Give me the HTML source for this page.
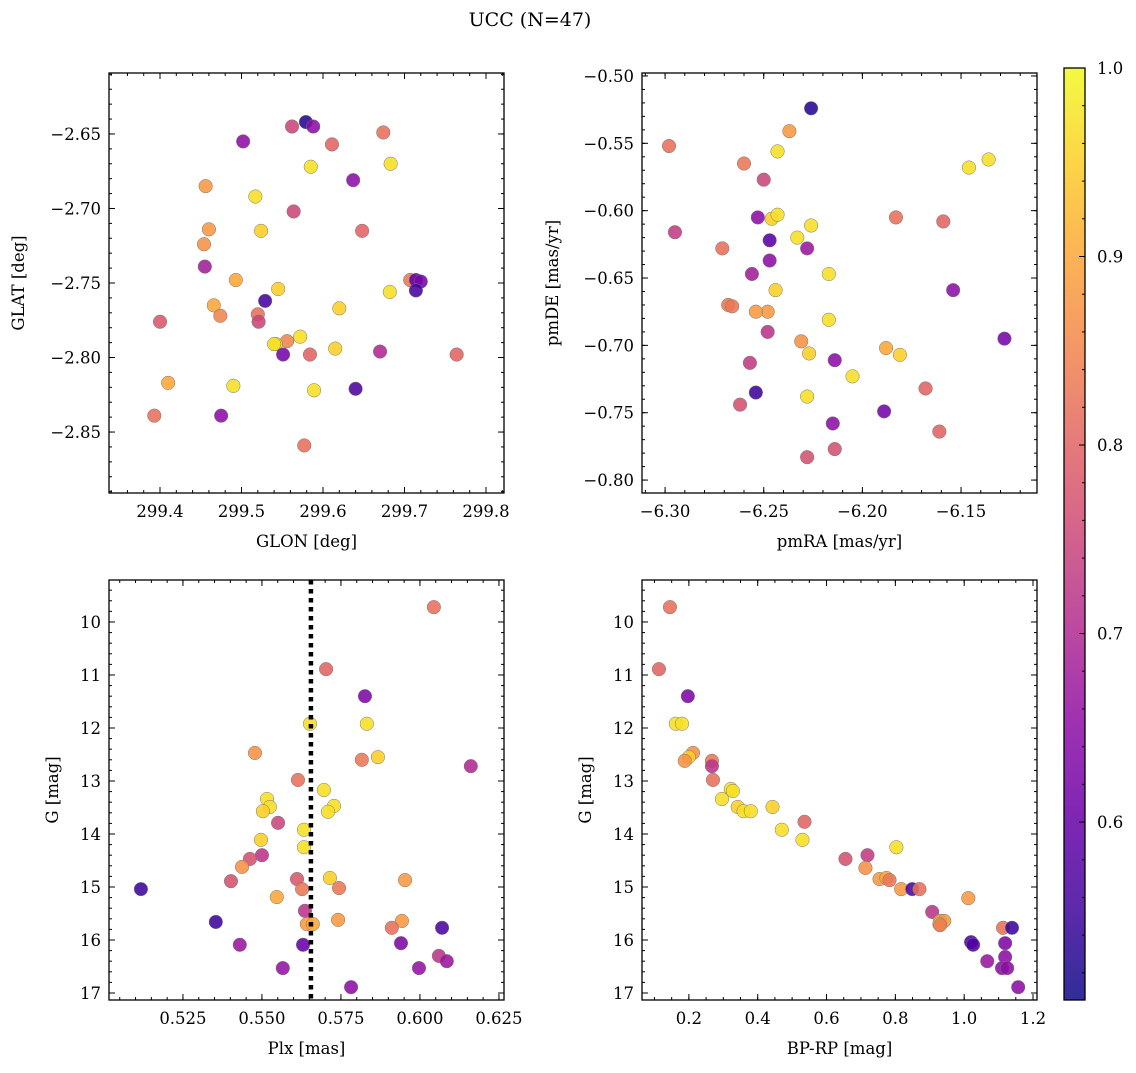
<!DOCTYPE html>
<html><head><meta charset="utf-8">
<style>
html,body{margin:0;padding:0;background:#fff;}
svg text{font-family:"DejaVu Serif","Liberation Serif",serif;fill:#000;}
</style></head>
<body>
<svg id="fig" width="1136" height="1068" xmlns="http://www.w3.org/2000/svg">
<text x="530" y="26" font-size="19" text-anchor="middle">UCC (N=47)</text>
</svg>
<script>
// ---- data ----
const glon=[299.579,299.588,299.562,299.674,299.502,299.611,299.683,299.585,299.637,299.456,299.517,299.564,299.460,299.524,299.648,299.454,299.455,299.493,299.707,299.714,299.720,299.545,299.682,299.714,299.529,299.466,299.620,299.474,299.520,299.400,299.521,299.572,299.556,299.542,299.540,299.615,299.670,299.551,299.584,299.764,299.410,299.490,299.640,299.589,299.475,299.393,299.577];
const glat=[-2.642,-2.645,-2.645,-2.649,-2.655,-2.657,-2.670,-2.672,-2.681,-2.685,-2.692,-2.702,-2.714,-2.715,-2.715,-2.724,-2.739,-2.748,-2.748,-2.748,-2.749,-2.754,-2.756,-2.755,-2.762,-2.765,-2.767,-2.772,-2.771,-2.776,-2.776,-2.786,-2.789,-2.791,-2.791,-2.794,-2.796,-2.798,-2.798,-2.798,-2.817,-2.819,-2.821,-2.822,-2.839,-2.839,-2.859];
const prob1=[0.53,0.65,0.75,0.82,0.65,0.8,0.97,0.97,0.65,0.88,0.97,0.75,0.88,0.95,0.8,0.87,0.68,0.9,0.83,0.6,0.62,0.95,0.97,0.56,0.56,0.9,0.95,0.85,0.82,0.78,0.75,0.97,0.85,0.97,0.97,0.95,0.7,0.62,0.8,0.8,0.9,0.97,0.57,0.97,0.65,0.82,0.82];
const pmra=[-6.226,-6.237,-6.298,-6.260,-6.243,-6.136,-6.146,-6.250,-6.253,-6.246,-6.243,-6.226,-6.233,-6.183,-6.159,-6.295,-6.271,-6.247,-6.228,-6.247,-6.256,-6.217,-6.244,-6.154,-6.268,-6.266,-6.248,-6.254,-6.217,-6.248,-6.128,-6.231,-6.188,-6.227,-6.181,-6.257,-6.214,-6.205,-6.168,-6.254,-6.228,-6.189,-6.262,-6.215,-6.161,-6.228,-6.214];
const pmde=[-0.524,-0.541,-0.552,-0.565,-0.556,-0.562,-0.568,-0.577,-0.605,-0.606,-0.603,-0.611,-0.620,-0.605,-0.608,-0.616,-0.628,-0.622,-0.628,-0.637,-0.647,-0.647,-0.659,-0.659,-0.670,-0.671,-0.675,-0.675,-0.681,-0.690,-0.695,-0.697,-0.702,-0.706,-0.707,-0.713,-0.711,-0.723,-0.732,-0.735,-0.738,-0.749,-0.744,-0.758,-0.764,-0.783,-0.777];
const prob2=[0.53,0.88,0.82,0.83,0.97,0.97,0.97,0.75,0.65,0.95,0.97,0.97,0.97,0.82,0.8,0.73,0.82,0.58,0.67,0.65,0.68,0.97,0.95,0.65,0.83,0.83,0.88,0.88,0.97,0.72,0.62,0.87,0.9,0.95,0.95,0.73,0.65,0.97,0.8,0.55,0.97,0.62,0.77,0.65,0.8,0.77,0.77];
const plx=[0.6044,0.5703,0.5826,0.5652,0.5832,0.5478,0.5867,0.5816,0.6161,0.5614,0.5696,0.5516,0.5525,0.5728,0.5503,0.5709,0.5551,0.5633,0.5497,0.5633,0.5500,0.5462,0.5437,0.5715,0.5402,0.5611,0.5953,0.5744,0.5117,0.5627,0.5547,0.5636,0.5642,0.5741,0.5943,0.5354,0.5661,0.5911,0.6070,0.5940,0.5430,0.5630,0.6060,0.6085,0.5566,0.5997,0.5782];
const gmag3=[9.72,10.89,11.40,11.92,11.92,12.47,12.55,12.60,12.72,12.98,13.17,13.34,13.49,13.47,13.57,13.58,13.79,13.92,14.11,14.25,14.40,14.47,14.62,14.83,14.89,14.85,14.87,15.02,15.04,15.04,15.19,15.45,15.70,15.62,15.64,15.66,15.70,15.77,15.77,16.06,16.09,16.09,16.30,16.40,16.53,16.53,16.89];
const prob3=[0.82,0.8,0.63,0.97,0.97,0.87,0.95,0.83,0.7,0.82,0.97,0.97,0.97,0.97,0.95,0.97,0.75,0.97,0.95,0.97,0.72,0.77,0.87,0.95,0.77,0.78,0.88,0.83,0.55,0.83,0.9,0.72,0.88,0.88,0.88,0.55,0.9,0.82,0.57,0.63,0.67,0.6,0.72,0.67,0.66,0.66,0.65];
const bprp=[0.145,0.113,0.197,0.162,0.180,0.212,0.200,0.188,0.267,0.267,0.270,0.322,0.328,0.296,0.342,0.359,0.380,0.443,0.536,0.470,0.530,0.803,0.655,0.719,0.713,0.754,0.774,0.783,0.817,0.849,0.870,1.012,0.907,0.930,0.942,0.928,0.930,1.113,1.139,1.119,1.020,1.026,1.119,1.067,1.110,1.125,1.157];
const gmag4=[9.72,10.89,11.40,11.92,11.92,12.47,12.55,12.62,12.62,12.72,12.98,13.15,13.19,13.34,13.49,13.57,13.57,13.49,13.77,13.92,14.11,14.25,14.47,14.40,14.64,14.85,14.83,14.87,15.04,15.04,15.04,15.21,15.47,15.64,15.64,15.70,15.72,15.77,15.77,16.06,16.04,16.09,16.32,16.40,16.53,16.53,16.89];
const prob4=[0.82,0.8,0.63,0.97,0.97,0.87,0.95,0.87,0.83,0.72,0.82,0.97,0.97,0.97,0.95,0.97,0.97,0.95,0.8,0.97,0.97,0.97,0.77,0.73,0.87,0.88,0.9,0.83,0.88,0.57,0.82,0.88,0.72,0.88,0.88,0.95,0.83,0.82,0.55,0.63,0.57,0.57,0.65,0.67,0.65,0.65,0.65];
const plxMedian=0.5655;
const cbTicks=[0.6,0.7,0.8,0.9,1.0];

const NS="http://www.w3.org/2000/svg";
const svg=document.getElementById('fig');
function mk(tag,attrs,parent){const e=document.createElementNS(NS,tag);for(const k in attrs)e.setAttribute(k,attrs[k]);(parent||svg).appendChild(e);return e;}
const stops=[[13,8,135],[65,4,157],[106,0,168],[143,13,164],[177,42,144],[204,71,120],[225,100,98],[242,132,75],[252,166,54],[252,206,37],[240,249,33]];
const cmin=0.5056,cmax=1.0;
function plasma(v){let t=(v-cmin)/(cmax-cmin);t=Math.max(0,Math.min(1,t))*10;const i=Math.min(9,Math.floor(t)),f=t-i;const a=stops[i],b=stops[i+1];return 'rgb('+a.map((x,k)=>Math.round(x+(b[k]-x)*f)).join(',')+')';}
function fmt(v,d){const s=Math.abs(v).toFixed(d);return (v<0?'\u2212':'')+s;}

function panel(cfg){
  const {L,T,W,H,xmin,xmax,ymin,ymax,inv,xs,ys,cs,xt,xmn,yt,ymn,xd,yd,xl,yl,ylx,name}=cfg;
  const g=mk('g',{},svg);
  
  
  const X=v=>L+(v-xmin)/(xmax-xmin)*W;
  const Y=v=>inv?T+(v-ymin)/(ymax-ymin)*H:T+H-(v-ymin)/(ymax-ymin)*H;
  for(let i=0;i<xs.length;i++){
    const c=mk('circle',{cx:X(xs[i]),cy:Y(ys[i]),r:6.8,fill:plasma(cs[i]),'fill-opacity':0.88,stroke:'#777','stroke-width':0.5},g);
    
    
  }
  if(cfg.vline!==undefined){
    const l=mk('line',{x1:X(cfg.vline),x2:X(cfg.vline),y1:T,y2:T+H,stroke:'#000','stroke-width':4.5,'stroke-dasharray':'4.5,4.5'},g);
    
    
  }
  const f=mk('rect',{x:L,y:T,width:W,height:H,fill:'none',stroke:'#000','stroke-width':1.3},g);
  
  
  const tk=(x1,y1,x2,y2)=>mk('line',{x1,y1,x2,y2,stroke:'#000','stroke-width':1},g);
  for(let v=Math.ceil(xmin/xmn-1e-6)*xmn;v<=xmax+1e-9;v+=xmn){const x=X(v);tk(x,T+H,x,T+H-3);tk(x,T,x,T+3);}
  for(let v=Math.ceil(ymin/ymn-1e-6)*ymn;v<=ymax+1e-9;v+=ymn){const y=Y(v);tk(L,y,L+3,y);tk(L+W,y,L+W-3,y);}
  xt.forEach(v=>{const x=X(v);tk(x,T+H,x,T+H-6);tk(x,T,x,T+6);
    const t=mk('text',{x:x,y:T+H+24,'font-size':16.5,'text-anchor':'middle'},g);t.textContent=fmt(v,xd);
    
    });
  yt.forEach(v=>{const y=Y(v);tk(L,y,L+6,y);tk(L+W,y,L+W-6,y);
    const t=mk('text',{x:L-8,y:y+6,'font-size':16.5,'text-anchor':'end'},g);t.textContent=fmt(v,yd);
    
    });
  const xa=mk('text',{x:L+W/2,y:T+H+54,'font-size':16.5,'text-anchor':'middle'},g);xa.textContent=xl;
  
  
  const ya=mk('text',{x:0,y:0,'font-size':16.5,'text-anchor':'middle',transform:'translate('+ylx+','+(T+H/2)+') rotate(-90)'},g);ya.textContent=yl;
  
  
}
panel({name:'glon-glat-panel',L:109,T:73,W:395,H:420,xmin:299.3374,xmax:299.8221,ymin:-2.8909,ymax:-2.6091,inv:false,xs:glon,ys:glat,cs:prob1,
  xt:[299.4,299.5,299.6,299.7,299.8],xmn:0.02,yt:[-2.85,-2.8,-2.75,-2.7,-2.65],ymn:0.01,xd:1,yd:2,xl:'GLON [deg]',yl:'GLAT [deg]',ylx:24});
panel({name:'proper-motion-panel',L:642,T:73,W:395,H:420,xmin:-6.3117,xmax:-6.1115,ymin:-0.8096,ymax:-0.4978,inv:false,xs:pmra,ys:pmde,cs:prob2,
  xt:[-6.3,-6.25,-6.2,-6.15],xmn:0.01,yt:[-0.8,-0.75,-0.7,-0.65,-0.6,-0.55,-0.5],ymn:0.01,xd:2,yd:2,xl:'pmRA [mas/yr]',yl:'pmDE [mas/yr]',ylx:558});
panel({name:'plx-g-panel',L:109,T:580,W:395,H:420,xmin:0.5016,xmax:0.6266,ymin:9.208,ymax:17.132,inv:true,xs:plx,ys:gmag3,cs:prob3,vline:plxMedian,
  xt:[0.525,0.55,0.575,0.6,0.625],xmn:0.005,yt:[10,11,12,13,14,15,16,17],ymn:0.2,xd:3,yd:0,xl:'Plx [mas]',yl:'G [mag]',ylx:58});
panel({name:'cmd-panel',L:642,T:580,W:395,H:420,xmin:0.0638,xmax:1.2116,ymin:9.208,ymax:17.132,inv:true,xs:bprp,ys:gmag4,cs:prob4,
  xt:[0.2,0.4,0.6,0.8,1.0,1.2],xmn:0.05,yt:[10,11,12,13,14,15,16,17],ymn:0.2,xd:1,yd:0,xl:'BP-RP [mag]',yl:'G [mag]',ylx:591});
const defs=mk('defs',{});
const lg=mk('linearGradient',{id:'cbg',x1:0,y1:1,x2:0,y2:0},defs);
stops.forEach((s,i)=>mk('stop',{offset:i/10,'stop-color':'rgb('+s.join(',')+')','stop-opacity':0.85},lg));
const cb=mk('g',{});


const CT=68,CB=1000,CL=1064,CW=21;
const CY=v=>CB-(v-cmin)/(cmax-cmin)*(CB-CT);
mk('rect',{x:CL,y:CT,width:CW,height:CB-CT,fill:'url(#cbg)',stroke:'#000','stroke-width':1.3},cb);
for(let v=0.52;v<=1.0001;v+=0.02){const y=CY(v);mk('line',{x1:CL+CW,x2:CL+CW-3,y1:y,y2:y,stroke:'#000','stroke-width':1},cb);}
cbTicks.forEach(v=>{const y=CY(v);mk('line',{x1:CL+CW,x2:CL+CW-6,y1:y,y2:y,stroke:'#000','stroke-width':1},cb);
  const t=mk('text',{x:1097,y:y+6,'font-size':16.5},cb);t.textContent=v.toFixed(1);
  
  });
</script>
</body></html>
